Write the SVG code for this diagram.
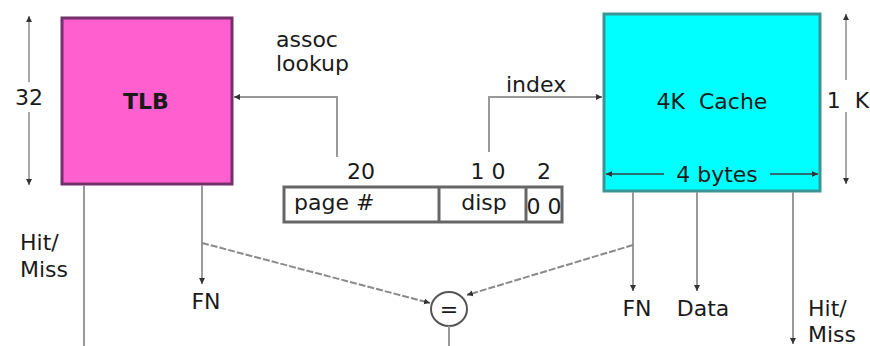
<svg xmlns="http://www.w3.org/2000/svg" width="870" height="346" viewBox="0 0 870 346">
  <style>
    .lbl { font-family: "DejaVu Sans", "Liberation Sans", sans-serif; font-size: 22px; fill: #1a1a1a; }
    .mid { text-anchor: middle; }
    .wire { stroke: #9a9a9a; stroke-width: 2; fill: none; }
    .dash { stroke: #8a8a8a; stroke-width: 2; fill: none; stroke-dasharray: 7 2; }
    .dim { stroke: #a8a8a8; stroke-width: 2; fill: none; }
  </style>
  <defs>
    <marker id="tip" markerUnits="userSpaceOnUse" markerWidth="8" markerHeight="8" refX="6" refY="4" orient="auto-start-reverse">
      <path d="M0,1 L6,4 L0,7 Z" fill="#333"/>
    </marker>
  </defs>

  <rect width="870" height="346" fill="#ffffff"/>

  <!-- TLB block -->
  <g id="tlb">
    <rect x="62" y="18" width="170" height="166" fill="#ff5fcf" stroke="#74306a" stroke-width="3"/>
    <text class="lbl mid" x="146" y="109" font-weight="bold" fill="#4a1040">TLB</text>
  </g>

  <!-- 32 entries dimension -->
  <g id="dim-32">
    <line class="dim" x1="29" y1="16" x2="29" y2="82" marker-start="url(#tip)"/>
    <line class="dim" x1="29" y1="112" x2="29" y2="185" marker-end="url(#tip)"/>
    <text class="lbl mid" x="29" y="105">32</text>
  </g>

  <!-- Cache block -->
  <g id="cache">
    <rect x="604" y="14" width="216" height="177" fill="#00ffff" stroke="#3a9595" stroke-width="3"/>
    <text class="lbl mid" x="712" y="109" fill="#0a3a3a" xml:space="preserve">4K  Cache</text>
    <line stroke="#2a7070" stroke-width="2" x1="606" y1="174" x2="664" y2="174" marker-start="url(#tip)"/>
    <line stroke="#2a7070" stroke-width="2" x1="770" y1="174" x2="818" y2="174" marker-end="url(#tip)"/>
    <text class="lbl mid" x="717" y="182" fill="#0a2a2a">4 bytes</text>
  </g>

  <!-- 1 K lines dimension -->
  <g id="dim-1k">
    <line class="dim" x1="846" y1="14" x2="846" y2="80" marker-start="url(#tip)"/>
    <line class="dim" x1="846" y1="112" x2="846" y2="184" marker-end="url(#tip)"/>
    <text class="lbl mid" x="848" y="108" xml:space="preserve">1  K</text>
  </g>

  <!-- Virtual address fields -->
  <g id="address">
    <rect x="284" y="187" width="278" height="35" fill="#ffffff" stroke="#666" stroke-width="3"/>
    <line x1="439" y1="187" x2="439" y2="222" stroke="#666" stroke-width="3"/>
    <line x1="526" y1="187" x2="526" y2="222" stroke="#666" stroke-width="3"/>
    <text class="lbl" x="294" y="210">page #</text>
    <text class="lbl mid" x="484" y="210">disp</text>
    <text class="lbl mid" x="544" y="214" font-size="15" xml:space="preserve">0 0</text>
    <text class="lbl mid" x="361" y="179" font-size="19">20</text>
    <text class="lbl mid" x="488" y="179" font-size="19" xml:space="preserve">1 0</text>
    <text class="lbl mid" x="544" y="179" font-size="19">2</text>
  </g>

  <!-- Comparator -->
  <g id="compare">
    <ellipse cx="449" cy="309" rx="18" ry="17" fill="#ffffff" stroke="#555" stroke-width="2"/>
    <text class="lbl mid" x="449" y="317">=</text>
  </g>

  <!-- Connectors -->
  <g id="connectors">
    <polyline class="wire" points="337,157 337,97 234,97" marker-end="url(#tip)"/>
    <polyline class="wire" points="489,152 489,97 602,97" marker-end="url(#tip)"/>
    <line class="wire" x1="84" y1="185" x2="84" y2="346"/>
    <line class="wire" x1="202" y1="185" x2="202" y2="284" marker-end="url(#tip)"/>
    <line class="dash" x1="202" y1="243" x2="430" y2="303" marker-end="url(#tip)"/>
    <line class="wire" x1="633" y1="192" x2="633" y2="291" marker-end="url(#tip)"/>
    <line class="dash" x1="633" y1="245" x2="467" y2="295" marker-end="url(#tip)"/>
    <line class="wire" x1="697" y1="192" x2="697" y2="291" marker-end="url(#tip)"/>
    <line class="wire" x1="793" y1="192" x2="793" y2="344" marker-end="url(#tip)"/>
    <line class="wire" x1="449" y1="326" x2="449" y2="346"/>
  </g>

  <!-- Free-standing labels -->
  <g id="labels">
    <text class="lbl" x="276" y="47">assoc</text>
    <text class="lbl" x="276" y="71">lookup</text>
    <text class="lbl" x="506" y="92">index</text>
    <text class="lbl" x="20" y="250">Hit/</text>
    <text class="lbl" x="20" y="277">Miss</text>
    <text class="lbl mid" x="206" y="309">FN</text>
    <text class="lbl mid" x="637" y="316">FN</text>
    <text class="lbl mid" x="703" y="316">Data</text>
    <text class="lbl" x="808" y="316">Hit/</text>
    <text class="lbl" x="808" y="342">Miss</text>
  </g>
</svg>
